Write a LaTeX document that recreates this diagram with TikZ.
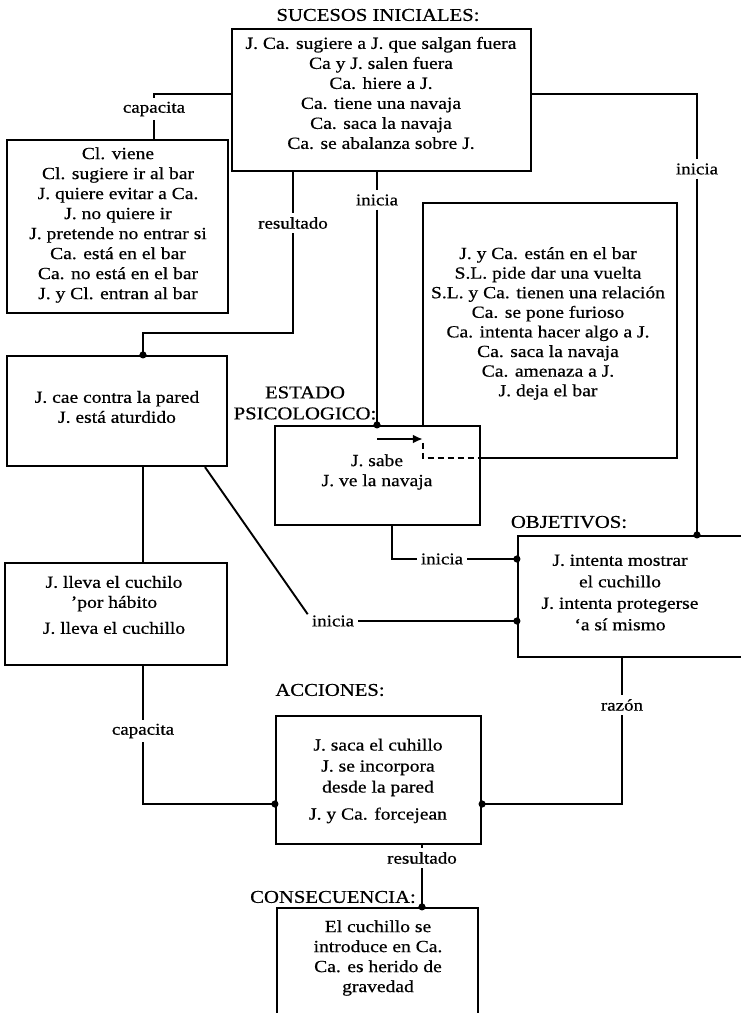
\documentclass[tikz,border=0pt]{standalone}
\usepackage{fontspec}
\setmainfont[FakeStretch=1.15, FakeBold=0.6]{Liberation Serif}
\usetikzlibrary{arrows.meta}
\begin{document}
\begin{tikzpicture}[x=1pt,y=-1pt,
  box/.style={draw, line width=2.2pt, inner sep=0pt},
  frame/.style={line width=2.2pt},
  plain/.style={line width=1.9pt},
  link/.style={line width=1.9pt, -{Circle[length=7pt]}, shorten >=-3.5pt},
  txt/.style={align=center, inner sep=0pt, font=\fontsize{17}{20}\selectfont},
  head/.style={align=center, inner sep=0pt, font=\fontsize{18}{21}\selectfont},
  lab/.style={inner xsep=4pt, inner ysep=4pt, font=\fontsize{16.5}{20}\selectfont},
]
\fill[white] (0,0) rectangle (741,1013);
\clip (0,0) rectangle (741,1013);

% ---- boxes ----
\node[box, minimum width=299pt, minimum height=142pt] (top) at (381.5,100) {};
\node[box, minimum width=221pt, minimum height=173pt] (cl) at (117.5,226.5) {};
\node[box, minimum width=220pt, minimum height=110pt] (cae) at (117,411) {};
\node[box, minimum width=222pt, minimum height=102pt] (lleva) at (116,614) {};
\node[box, minimum width=205pt, minimum height=99pt] (estado) at (377.5,475.5) {};
\node[inner sep=0pt, minimum width=254pt, minimum height=255pt] (bar) at (550,330.5) {};
\node[box, minimum width=242pt, minimum height=121pt] (obj) at (639,596.5) {};
\node[box, minimum width=205pt, minimum height=128pt] (acc) at (378.5,780) {};
\node[box, minimum width=201pt, minimum height=122pt] (cons) at (377.5,969) {};

% outline of the bar scene, its corner hidden behind the mental-state box
\draw[frame] (estado.north -| bar.west) -- (bar.north west) -- (bar.north east)
  -- (bar.south east) -- (bar.south -| estado.east);
\draw[frame, line width=1.8pt, dash pattern=on 6pt off 4pt]
  (estado.north -| bar.west) ++(0,18) -- (bar.south west) -- (bar.south -| estado.east);

% ---- headings ----
\node[head] (t1) at (378,15) {SUCESOS INICIALES:};
\node[head] (t2) at (305,403) {ESTADO\\PSICOLOGICO:};
\node[head] (t3) at (569,522) {OBJETIVOS:};
\node[head] (t4) at (330,690) {ACCIONES:};
\node[head] (t5) at (333,897) {CONSECUENCIA:};

% ---- box contents ----
\node[txt] (topT) at (381,93) {J. Ca. sugiere a J. que salgan fuera\\Ca y J. salen fuera\\Ca. hiere a J.\\Ca. tiene una navaja\\Ca. saca la navaja\\Ca. se abalanza sobre J.};
\node[txt] (clT) at (118,225) {Cl. viene\\Cl. sugiere ir al bar\\J. quiere evitar a Ca.\\J. no quiere ir\\J. pretende no entrar si\\Ca. está en el bar\\Ca. no está en el bar\\J. y Cl. entran al bar};
\node[txt, font=\fontsize{17}{19.6}\selectfont] (barT) at (548,323.5) {J. y Ca. están en el bar\\S.L. pide dar una vuelta\\S.L. y Ca. tienen una relación\\Ca. se pone furioso\\Ca. intenta hacer algo a J.\\Ca. saca la navaja\\Ca. amenaza a J.\\J. deja el bar};
\node[txt] (caeT) at (117,407) {J. cae contra la pared\\J. está aturdido};
\node[txt] (estadoT) at (377,472) {J. sabe\\J. ve la navaja};
\node[txt, font=\fontsize{17}{21.5}\selectfont] (objT) at (620,592.5) {J. intenta mostrar\\el cuchillo\\J. intenta protegerse\\{`}a sí mismo};
\node[txt] (llevaT) at (114,605) {J. lleva el cuchilo\\{'}por hábito\\[6pt]J. lleva el cuchillo};
\node[txt, font=\fontsize{17}{21}\selectfont] (accT) at (378,781) {J. saca el cuhillo\\J. se incorpora\\desde la pared\\[6pt]J. y Ca. forcejean};
\node[txt] (consT) at (378,958) {El cuchillo se\\introduce en Ca.\\Ca. es herido de\\gravedad};

% ---- connector labels ----
\node[lab] (l1) at (154,109) {capacita};
\node[lab] (l2) at (697,169) {inicia};
\node[lab] (l3) at (293,223) {resultado};
\node[lab] (l4) at (377,200) {inicia};
\node[lab] (l6) at (333,621) {inicia};
\node[lab] (l7) at (442,559) {inicia};
\node[lab] (l8) at (143,731) {capacita};
\node[lab] (l9) at (622,705) {razón};
\node[lab] (l10) at (422,858) {resultado};

% ---- bends and rows ----
\coordinate (rowA) at (0,94);
\coordinate (bendB) at (143,333);
\coordinate (diagA) at (205,0);
\coordinate (colE) at (392,0);
\coordinate (rowC) at (0,804);
\coordinate (rowD) at (0,439);

% ---- connectors ----
\draw[plain] (top.west |- rowA) -| (l1.north);
\draw[plain] (l1.south) -- (l1 |- cl.north);

\draw[plain] (top.east |- rowA) -| (l2.north);
\draw[link] (l2.south) -- (l2 |- obj.north);

\draw[plain] (l3 |- top.south) -- (l3.north);
\draw[link] (l3.south) -- (l3 |- bendB) -- (bendB) -- (bendB |- cae.north);

\draw[plain] (l4 |- top.south) -- (l4.north);
\draw[link] (l4.south) -- (l4 |- estado.north);

\draw[plain] (bendB |- cae.south) -- (bendB |- lleva.north);

\draw[plain] (diagA |- cae.south) -- (l6.165);
\draw[link] (l6.east) -- (obj.west |- l6);

\draw[plain] (colE |- estado.south) |- (l7.west);
\draw[link] (l7.east) -- (obj.west |- l7);

\draw[plain] (bendB |- lleva.south) -- (l8.north);
\draw[link] (l8.south) |- (acc.west |- rowC);

\draw[plain] (l9 |- obj.south) -- (l9.north);
\draw[link] (l9.south) |- (acc.east |- rowC);

\draw[plain] (l10 |- acc.south) -- (l10.north);
\draw[link] (l10.south) -- (l10 |- cons.north);

\draw[line width=2pt, -{Latex[length=10pt,width=9pt]}] (l4 |- rowD) -- (bar.west |- rowD);
\end{tikzpicture}
\end{document}
